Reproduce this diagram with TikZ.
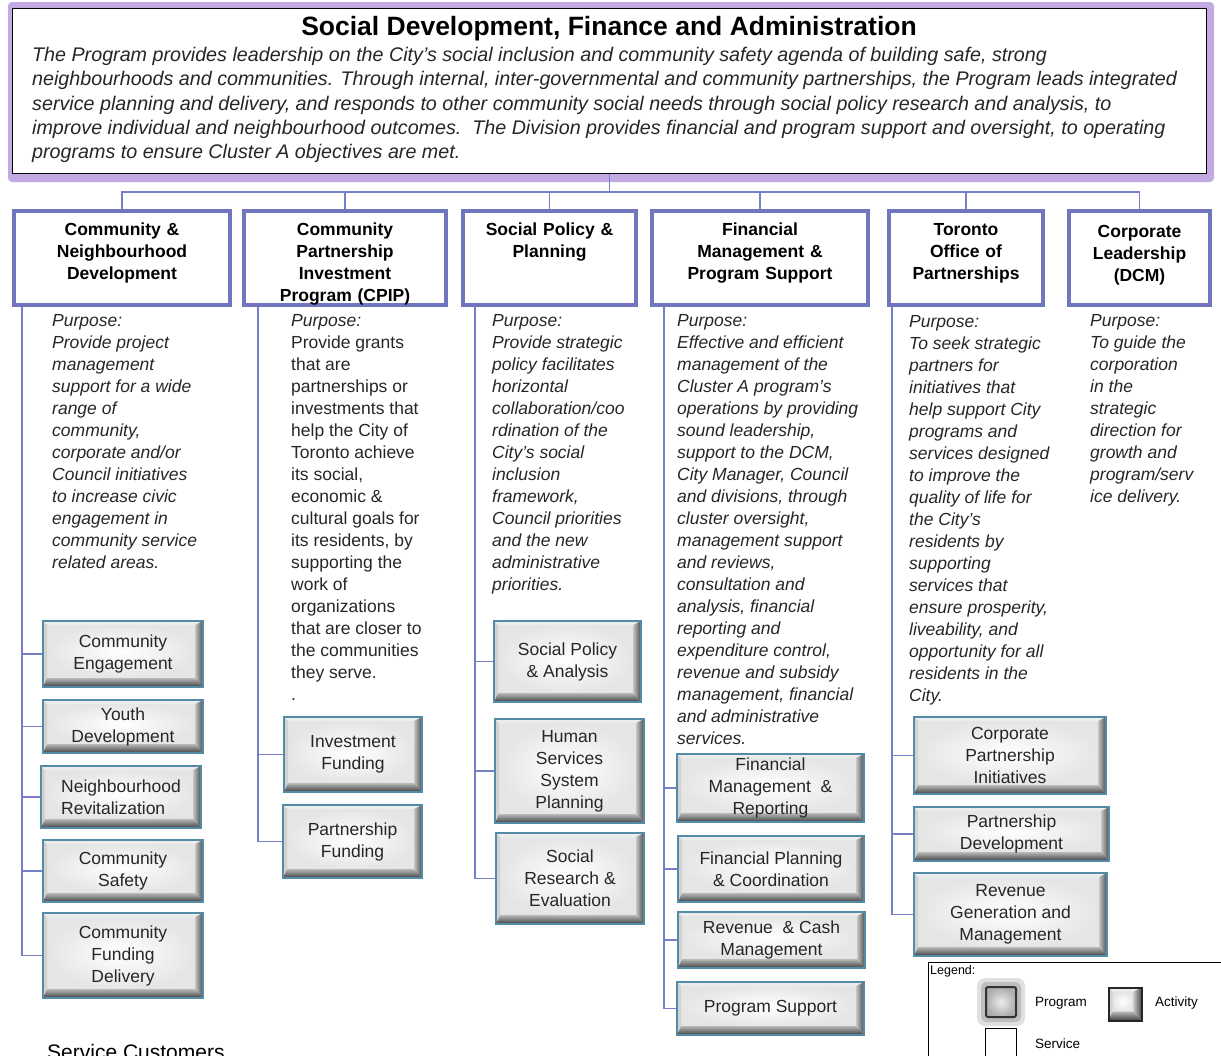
\documentclass[tikz,border=0pt]{standalone}
\usepackage{fontspec}
\setmainfont{Liberation Sans}

\definecolor{progblue}{RGB}{112,118,190}
\definecolor{linkblue}{RGB}{118,128,200}
\definecolor{actedge}{RGB}{84,140,168}
\definecolor{glowpurple}{RGB}{196,170,226}

% 活动框的立体边
\newcommand\actbevel{%
  \coordinate (bnw) at (path picture bounding box.north west);
  \coordinate (bne) at (path picture bounding box.north east);
  \coordinate (bsw) at (path picture bounding box.south west);
  \coordinate (bse) at (path picture bounding box.south east);
  \coordinate (fnw) at ([shift={(4pt,-4pt)}]bnw);
  \coordinate (fne) at ([shift={(-8pt,-4pt)}]bne);
  \coordinate (fsw) at ([shift={(4pt,9pt)}]bsw);
  \coordinate (fse) at ([shift={(-8pt,9pt)}]bse);
  \shade[inner color=white, outer color=gray!20] (fnw) rectangle (fse);
  \fill[gray!15] (bnw) -- (bne) -- (fne) -- (fnw) -- cycle;
  \fill[gray!35] (bnw) -- (fnw) -- (fsw) -- (bsw) -- cycle;
  \shade[left color=gray!45, right color=black!70] (bne) -- (bse) -- (fse) -- (fne) -- cycle;
  \shade[top color=gray!55, bottom color=black!75] (bsw) -- (fsw) -- (fse) -- (bse) -- cycle;
}

\tikzset{
  link/.style={draw=linkblue, line width=1.8pt},
  progbox/.style={draw=progblue, line width=4pt, fill=white, align=center,
    font=\bfseries\fontsize{17.5}{22}\selectfont, inner xsep=0pt, inner ysep=9.5pt,
    text height=14.5pt, text depth=60.5pt},
  actbox/.style={draw=actedge, line width=1.5pt, fill=white, align=center,
    font=\fontsize{17.5}{22}\selectfont, text=black!85, path picture={\actbevel}},
  purpose/.style={anchor=north west, align=left, inner sep=0pt, text=black!85,
    font=\itshape\fontsize{17.5}{22}\selectfont},
  legtext/.style={anchor=west, inner sep=0pt, font=\fontsize{13.5}{16}\selectfont}
}

\begin{document}
\begin{tikzpicture}[x=1pt, y=-1pt]
\useasboundingbox (0,0) rectangle (1221,1055);
\clip (0,0) rectangle (1221,1055);

% 顶部说明框
\fill[glowpurple, rounded corners=4pt] (8,2) rectangle (1214,182);
\node[draw=black, line width=1.2pt, fill=white, minimum width=1194, minimum height=165] (top) at (609.5,91) {};
\node[font=\bfseries\fontsize{26.5}{30}\selectfont] (title) at (609,29) {Social Development, Finance and Administration};
\node[anchor=north west, align=left, inner sep=0pt, text=black!85, font=\itshape\fontsize{19.7}{24.3}\selectfont] (desc) at (32,47)
  {The Program provides leadership on the City’s social inclusion and community safety agenda of building safe, strong\\
   neighbourhoods and communities. Through internal, inter-governmental and community partnerships, the Program leads integrated\\
   service planning and delivery, and responds to other community social needs through social policy research and analysis, to\\
   improve individual and neighbourhood outcomes.\ \ The Division provides financial and program support and oversight, to operating\\
   programs to ensure Cluster A objectives are met.};

% 各项目框
\node[progbox, text width=216] (p1) at (122,258) {Community \&\\Neighbourhood\\Development};
\node[progbox, text width=202] (p2) at (345,258) {Community\\Partnership\\Investment\\Program (CPIP)};
\node[progbox, text width=173] (p3) at (549.5,258) {Social Policy \&\\Planning};
\node[progbox, text width=216] (p4) at (760,258) {Financial\\Management \&\\Program Support};
\node[progbox, text width=154] (p5) at (966,258) {Toronto\\Office of\\Partnerships};
\node[progbox, text width=141, text height=16.5pt, text depth=58.5pt] (p6) at (1139.5,258) {Corporate\\Leadership\\(DCM)};

\coordinate (hub) at (609.5,192);
\draw[link] (top.south) -- (hub);
\draw[link] (hub) -| (p1.north);
\draw[link] (hub) -| (p2.north);
\draw[link] (hub) -| (p3.north);
\draw[link] (hub) -| (p4.north);
\draw[link] (hub) -| (p5.north);
\draw[link] (hub) -| (p6.north);

% 目的说明
\node[purpose] (u1) at (52,314) {Purpose:\\Provide project\\management\\support for a wide\\range of\\community,\\corporate and/or\\Council initiatives\\to increase civic\\engagement in\\community service\\related areas.};
\node[purpose, font=\upshape\fontsize{17.5}{22}\selectfont] (u2) at (291,314) {\textit{Purpose:}\\Provide grants\\that are\\partnerships or\\investments that\\help the City of\\Toronto achieve\\its social,\\economic \&\\cultural goals for\\its residents, by\\supporting the\\work of\\organizations\\that are closer to\\the communities\\they serve.\\.};
\node[purpose] (u3) at (492,314) {Purpose:\\Provide strategic\\policy facilitates\\horizontal\\collaboration/coo\\rdination of the\\City’s social\\inclusion\\framework,\\Council priorities\\and the new\\administrative\\priorities.};
\node[purpose] (u4) at (677,314) {Purpose:\\Effective and efficient\\management of the\\Cluster A program’s\\operations by providing\\sound leadership,\\support to the DCM,\\City Manager, Council\\and divisions, through\\cluster oversight,\\management support\\and reviews,\\consultation and\\analysis, financial\\reporting and\\expenditure control,\\revenue and subsidy\\management, financial\\and administrative\\services.};
\node[purpose] (u5) at (909,315) {Purpose:\\To seek strategic\\partners for\\initiatives that\\help support City\\programs and\\services designed\\to improve the\\quality of life for\\the City’s\\residents by\\supporting\\services that\\ensure prosperity,\\liveability, and\\opportunity for all\\residents in the\\City.};
\node[purpose] (u6) at (1090,314) {Purpose:\\To guide the\\corporation\\in the\\strategic\\direction for\\growth and\\program/serv\\ice delivery.};

% 活动框
\node[actbox, minimum width=160, minimum height=66] (a11) at (123,654) {Community\\Engagement};
\node[actbox, minimum width=160, minimum height=53] (a12) at (123,726.5) {Youth\\Development};
\node[actbox, align=left, minimum width=160, minimum height=62] (a13) at (121,797) {Neighbourhood\\Revitalization};
\node[actbox, minimum width=160, minimum height=62] (a14) at (123,871) {Community\\Safety};
\node[actbox, minimum width=160, minimum height=85] (a15) at (123,955.5) {Community\\Funding\\Delivery};

\node[actbox, minimum width=138, minimum height=75] (a21) at (353,754.5) {Investment\\Funding};
\node[actbox, minimum width=139, minimum height=73] (a22) at (352.5,841.5) {Partnership\\Funding};

\node[actbox, minimum width=147, minimum height=81] (a31) at (567.5,661.5) {Social Policy\\\& Analysis};
\node[actbox, minimum width=149, minimum height=104] (a32) at (569.5,771) {Human\\Services\\System\\Planning};
\node[actbox, minimum width=148, minimum height=91] (a33) at (570,878.5) {Social\\Research \&\\Evaluation};

\node[actbox, minimum width=187, minimum height=68] (a41) at (770.5,788) {Financial\\Management\ \ \&\\Reporting};
\node[actbox, minimum width=186, minimum height=66] (a42) at (771,869) {Financial Planning\\\& Coordination};
\node[actbox, minimum width=187, minimum height=56] (a43) at (771.5,940) {Revenue\ \ \& Cash\\Management};
\node[actbox, minimum width=187, minimum height=53] (a44) at (770.5,1008.5) {Program Support};

\node[actbox, minimum width=192, minimum height=77] (a51) at (1010,755.5) {Corporate\\Partnership\\Initiatives};
\node[actbox, minimum width=195, minimum height=54] (a52) at (1011.5,834) {Partnership\\Development};
\node[actbox, minimum width=193, minimum height=83] (a53) at (1010.5,914.5) {Revenue\\Generation and\\Management};

% 连线
\coordinate (t1) at ([xshift=10pt]p1.south west);
\coordinate (t2) at ([xshift=16pt]p2.south west);
\coordinate (t3) at ([xshift=14pt]p3.south west);
\coordinate (t4) at ([xshift=14pt]p4.south west);
\coordinate (t5) at ([xshift=5pt]p5.south west);
\draw[link] (t1) |- (a11.west);
\draw[link] (t1) |- (a12.west);
\draw[link] (t1) |- (a13.west);
\draw[link] (t1) |- (a14.west);
\draw[link] (t1) |- (a15.west);
\draw[link] (t2) |- (a21.west);
\draw[link] (t2) |- (a22.west);
\draw[link] (t3) |- (a31.west);
\draw[link] (t3) |- (a32.west);
\draw[link] (t3) |- (a33.west);
\draw[link] (t4) |- (a41.west);
\draw[link] (t4) |- (a42.west);
\draw[link] (t4) |- (a43.west);
\draw[link] (t4) |- (a44.west);
\draw[link] (t5) |- (a51.west);
\draw[link] (t5) |- (a52.west);
\draw[link] (t5) |- (a53.west);

% 图例
\draw[black, line width=1pt, fill=white] (928,962) rectangle (1240,1080);
\node[legtext, font=\fontsize{12.5}{15}\selectfont] (legtitle) at (930,971) {Legend:};
\fill[black, opacity=0.12, rounded corners=8pt] (977,978) rectangle (1025,1026);
\fill[black, opacity=0.15, rounded corners=6pt] (981,982) rectangle (1021,1022);
\node[draw=black!80, line width=2pt, rounded corners=2pt, inner color=gray!15, outer color=gray!65, minimum size=30] (legprog) at (1001,1002) {};
\node[legtext] (legprogtxt) at (1035,1003) {Program};
\node[actbox, draw=black!85, line width=2pt, minimum size=33] (legact) at (1125,1004) {};
\node[legtext] (legacttxt) at (1155,1003) {Activity};
\node[draw=black, line width=1.2pt, fill=white, minimum size=31] (legsvc) at (1001,1044) {};
\node[legtext] (legsvctxt) at (1035,1044) {Service};

\node[anchor=base west, inner sep=0pt, font=\fontsize{21}{25}\selectfont] (cust) at (47,1059) {Service Customers};
\end{tikzpicture}
\end{document}
